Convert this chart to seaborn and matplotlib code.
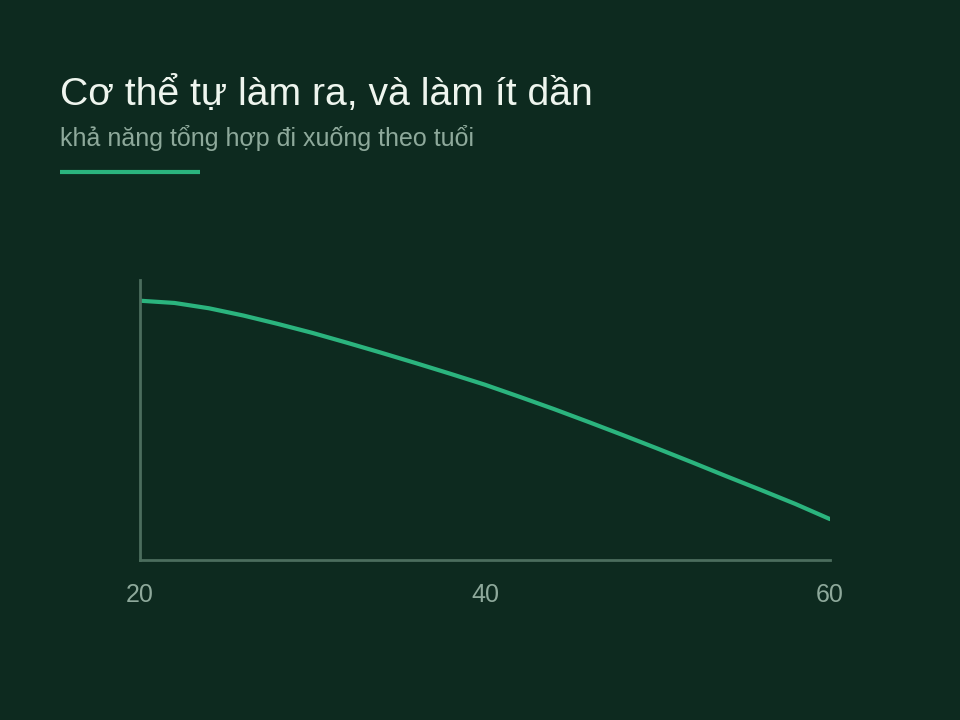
import matplotlib
matplotlib.use("Agg")
import matplotlib.pyplot as plt
import seaborn as sns
import pandas as pd

# age vs relative synthesis capacity
ages = [20, 22, 24, 26, 28, 30, 32, 34, 36, 38, 40,
        42, 44, 46, 48, 50, 52, 54, 56, 58, 60]
capacity = [92.6, 91.8, 89.9, 87.3, 84.3, 81.1, 77.6, 74.0, 70.3, 66.5, 62.6,
            58.3, 53.9, 49.3, 44.6, 39.8, 34.9, 29.9, 25.0, 20.0, 14.6]
x_ticks = [20, 40, 60]

title = "Cơ thể tự làm ra, và làm ít dần"
subtitle = "khả năng tổng hợp đi xuống theo tuổi"

bg = "#0d2a1f"
green = "#2bb47e"
spine_col = "#4b6d5d"
muted = "#8ea99b"

sns.set_theme(style="white")
plt.rcParams["font.family"] = ["Liberation Sans", "DejaVu Sans"]

df = pd.DataFrame({"age": ages, "capacity": capacity})

fig = plt.figure(figsize=(9.6, 7.2), dpi=100)
fig.patch.set_facecolor(bg)
ax = fig.add_axes([140 / 960, 1 - 560 / 720, 690 / 960, 280 / 720])
ax.set_facecolor(bg)

sns.lineplot(data=df, x="age", y="capacity", ax=ax, color=green, linewidth=3)

ax.set_xlim(20, 60)
ax.set_ylim(0, 100)
ax.set_xticks(x_ticks)
ax.set_xticklabels([str(t) for t in x_ticks])
ax.set_yticks([])
ax.set_xlabel("")
ax.set_ylabel("")
ax.tick_params(axis="x", length=0, pad=16.5, labelsize=18, labelcolor=muted)

for side in ["top", "right"]:
    ax.spines[side].set_visible(False)
for side in ["left", "bottom"]:
    ax.spines[side].set_color(spine_col)
    ax.spines[side].set_linewidth(2)

fig.text(60 / 960, 1 - 105 / 720, title, fontsize=28.2, color="#eef5ee")
fig.text(60 / 960, 1 - 146 / 720, subtitle, fontsize=18, color=muted)
fig.add_artist(plt.Line2D([60 / 960, 200 / 960], [1 - 172 / 720, 1 - 172 / 720],
                          color=green, linewidth=3, solid_capstyle="butt"))

fig.savefig("out.png", dpi=100, facecolor=bg)
